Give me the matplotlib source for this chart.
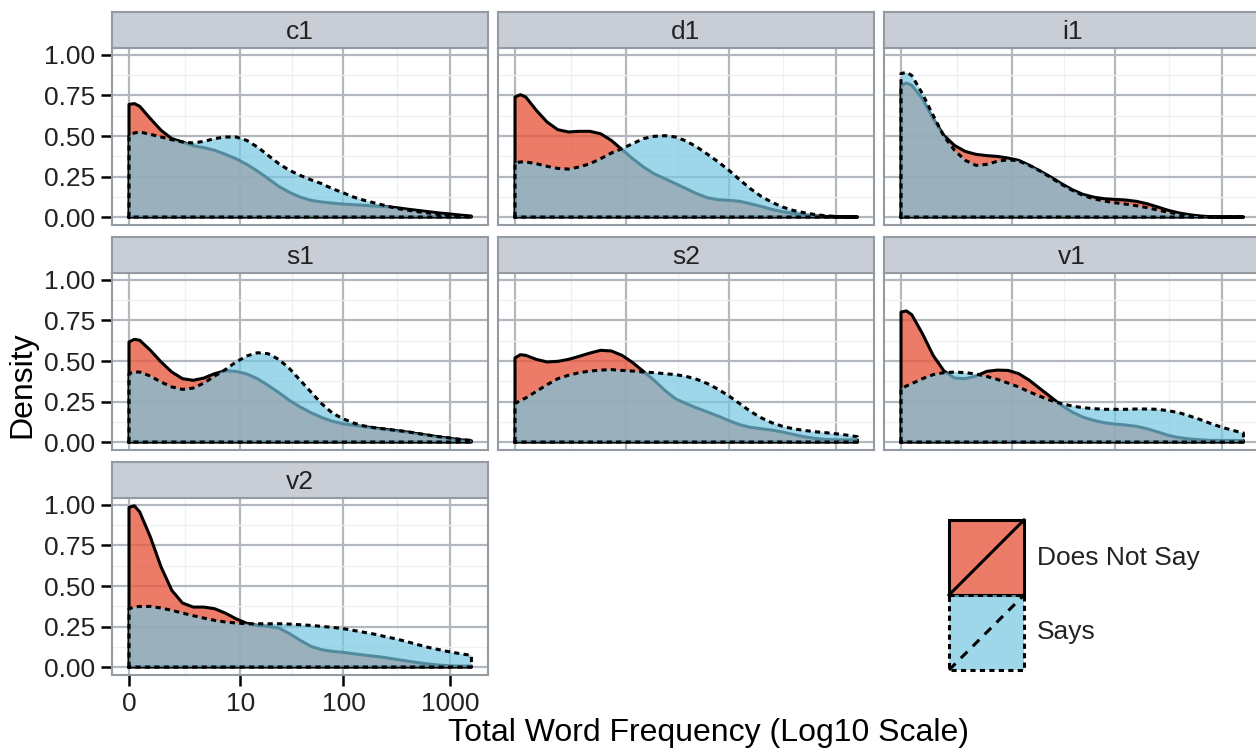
import numpy as np
import matplotlib
matplotlib.use('Agg')
import matplotlib.pyplot as plt
from matplotlib.patches import Rectangle
from matplotlib.lines import Line2D

plt.rcParams['font.family'] = ['Liberation Sans', 'DejaVu Sans']

W, H = 1256, 750

# x in log10(frequency + 1)
log_x = [0.0, 0.05, 0.1, 0.2, 0.3, 0.4, 0.5, 0.6, 0.7, 0.8, 0.9, 1.0,
         1.1, 1.2, 1.3, 1.4, 1.5, 1.6, 1.7, 1.8, 1.9, 2.0, 2.1, 2.2,
         2.3, 2.4, 2.5, 2.6, 2.7, 2.8, 2.9, 3.0, 3.1, 3.2]

panels = ['c1', 'd1', 'i1', 's1', 's2', 'v1', 'v2']

c1_not = [0.695, 0.700, 0.683, 0.607, 0.535, 0.484, 0.463, 0.440, 0.428, 0.412, 0.387, 0.360,
          0.325, 0.284, 0.237, 0.189, 0.152, 0.123, 0.103, 0.093, 0.086, 0.080, 0.076, 0.072,
          0.068, 0.064, 0.058, 0.049, 0.041, 0.033, 0.025, 0.019, 0.012, 0.006]
c1_says = [0.498, 0.519, 0.525, 0.510, 0.494, 0.477, 0.463, 0.457, 0.467, 0.484, 0.494, 0.494,
           0.473, 0.432, 0.381, 0.329, 0.288, 0.257, 0.230, 0.206, 0.175, 0.150, 0.123, 0.103,
           0.086, 0.070, 0.053, 0.043, 0.033, 0.025, 0.016, 0.010, 0.006, 0.004]

d1_not = [0.741, 0.755, 0.741, 0.658, 0.586, 0.539, 0.525, 0.529, 0.529, 0.514, 0.473, 0.416,
          0.360, 0.309, 0.267, 0.237, 0.206, 0.175, 0.144, 0.119, 0.107, 0.103, 0.097, 0.082,
          0.066, 0.047, 0.033, 0.023, 0.014, 0.008, 0.004, 0.002, 0.001, 0.000]
d1_says = [0.333, 0.340, 0.340, 0.329, 0.313, 0.300, 0.296, 0.309, 0.329, 0.360, 0.395, 0.422,
           0.453, 0.484, 0.498, 0.502, 0.494, 0.469, 0.432, 0.387, 0.340, 0.288, 0.230, 0.175,
           0.128, 0.091, 0.062, 0.041, 0.027, 0.016, 0.008, 0.004, 0.002, 0.001]

i1_not = [0.813, 0.827, 0.813, 0.730, 0.607, 0.504, 0.442, 0.405, 0.387, 0.379, 0.374, 0.364,
          0.350, 0.319, 0.284, 0.247, 0.206, 0.169, 0.140, 0.123, 0.113, 0.109, 0.105, 0.097,
          0.082, 0.062, 0.041, 0.025, 0.014, 0.006, 0.002, 0.000, 0.000, 0.000]
i1_says = [0.885, 0.893, 0.874, 0.761, 0.628, 0.500, 0.412, 0.350, 0.319, 0.325, 0.344, 0.354,
           0.346, 0.319, 0.284, 0.243, 0.202, 0.165, 0.134, 0.113, 0.099, 0.088, 0.080, 0.070,
           0.058, 0.043, 0.029, 0.019, 0.010, 0.004, 0.002, 0.000, 0.000, 0.000]

s1_not = [0.617, 0.634, 0.628, 0.566, 0.494, 0.432, 0.391, 0.381, 0.395, 0.422, 0.440, 0.436,
          0.420, 0.391, 0.350, 0.305, 0.257, 0.216, 0.181, 0.152, 0.128, 0.113, 0.103, 0.095,
          0.086, 0.078, 0.070, 0.062, 0.051, 0.041, 0.031, 0.023, 0.014, 0.008]
s1_says = [0.422, 0.432, 0.432, 0.407, 0.370, 0.340, 0.325, 0.333, 0.364, 0.407, 0.447, 0.494,
           0.531, 0.551, 0.545, 0.510, 0.453, 0.381, 0.309, 0.237, 0.179, 0.144, 0.117, 0.099,
           0.088, 0.080, 0.072, 0.064, 0.053, 0.043, 0.033, 0.025, 0.016, 0.010]

s2_not = [0.519, 0.539, 0.535, 0.510, 0.494, 0.498, 0.510, 0.529, 0.549, 0.566, 0.562, 0.535,
          0.490, 0.436, 0.381, 0.319, 0.267, 0.237, 0.210, 0.185, 0.160, 0.132, 0.107, 0.091,
          0.082, 0.074, 0.062, 0.047, 0.033, 0.023, 0.016, 0.014, 0.014, 0.014]
s2_says = [0.237, 0.257, 0.272, 0.313, 0.354, 0.391, 0.412, 0.428, 0.438, 0.444, 0.447, 0.442,
           0.438, 0.432, 0.428, 0.422, 0.416, 0.405, 0.387, 0.360, 0.325, 0.284, 0.237, 0.189,
           0.150, 0.119, 0.097, 0.082, 0.072, 0.064, 0.058, 0.051, 0.043, 0.033]

v1_not = [0.802, 0.809, 0.786, 0.669, 0.535, 0.440, 0.395, 0.391, 0.407, 0.436, 0.444, 0.442,
          0.422, 0.381, 0.329, 0.278, 0.226, 0.185, 0.154, 0.134, 0.119, 0.111, 0.105, 0.097,
          0.082, 0.062, 0.041, 0.027, 0.019, 0.014, 0.010, 0.010, 0.010, 0.010]
v1_says = [0.329, 0.346, 0.360, 0.391, 0.416, 0.428, 0.432, 0.428, 0.420, 0.405, 0.387, 0.364,
           0.340, 0.309, 0.282, 0.257, 0.237, 0.222, 0.212, 0.206, 0.202, 0.202, 0.202, 0.204,
           0.204, 0.202, 0.193, 0.181, 0.160, 0.138, 0.113, 0.091, 0.072, 0.056]

v2_not = [0.985, 0.995, 0.957, 0.802, 0.617, 0.473, 0.395, 0.370, 0.370, 0.360, 0.333, 0.298,
          0.270, 0.257, 0.251, 0.241, 0.206, 0.165, 0.128, 0.107, 0.097, 0.091, 0.082, 0.074,
          0.066, 0.058, 0.047, 0.037, 0.027, 0.019, 0.012, 0.008, 0.006, 0.006]
v2_says = [0.360, 0.370, 0.374, 0.374, 0.364, 0.350, 0.333, 0.317, 0.302, 0.288, 0.278, 0.272,
           0.267, 0.267, 0.267, 0.267, 0.265, 0.261, 0.257, 0.251, 0.245, 0.237, 0.226, 0.214,
           0.202, 0.187, 0.173, 0.156, 0.138, 0.121, 0.107, 0.093, 0.082, 0.072]

series = {
    'c1': (c1_not, c1_says), 'd1': (d1_not, d1_says), 'i1': (i1_not, i1_says),
    's1': (s1_not, s1_says), 's2': (s2_not, s2_says), 'v1': (v1_not, v1_says),
    'v2': (v2_not, v2_says),
}

groups = ['Does Not Say', 'Says']
fill_cols = ['#E85B42', '#77C7E2']
fill_alpha = [0.8, 0.7]
line_styles = ['-', (0, (1.7, 1.4))]

x_ticks = [0, np.log10(11), np.log10(101), np.log10(1001)]
x_ticklabels = ['0', '10', '100', '1000']
y_ticks = [0.0, 0.25, 0.5, 0.75, 1.0]

GRID = '#B3B7BE'
MINOR = '#EEF0F4'
BORDER = '#959BA3'
STRIP = '#C9CDD5'
TXT = '#222222'
FS = 19


def px_axes(fig, x0, y0, x1, y1):
    return fig.add_axes([x0 / W, 1 - y1 / H, (x1 - x0) / W, (y1 - y0) / H])


fig = plt.figure(figsize=(W / 100, H / 100), dpi=100)

col_x = [112, 498, 884]
row_y = [48, 273, 498]
pw, ph, sh = 376, 177, 36

for i, name in enumerate(panels):
    r, c = divmod(i, 3)
    x0, y0 = col_x[c], row_y[r]
    ax = px_axes(fig, x0, y0, x0 + pw, y0 + ph)
    ax.set_xlim(-0.159, 3.355)
    ax.set_ylim(-0.049, 1.043)
    ax.set_axisbelow(True)
    ax.set_xticks(x_ticks)
    ax.set_yticks(y_ticks)
    ax.set_xticks([0.52, 1.52, 2.5], minor=True)
    ax.set_yticks([0.125, 0.375, 0.625, 0.875], minor=True)
    ax.grid(which='major', color=GRID, lw=1.6)
    ax.grid(which='minor', color=MINOR, lw=1.0)
    for s in ax.spines.values():
        s.set_color(BORDER)
        s.set_linewidth(1.5)
    ax.tick_params(which='minor', length=0)
    ax.tick_params(which='major', length=8, width=1.8, color='black',
                   labelsize=FS, labelcolor=TXT, pad=4)
    if c == 0:
        ax.set_yticklabels(['0.00', '0.25', '0.50', '0.75', '1.00'])
    else:
        ax.tick_params(axis='y', length=0, labelleft=False)
    if name == 'v2':
        ax.set_xticklabels(x_ticklabels)
    else:
        ax.tick_params(axis='x', length=0, labelbottom=False)

    for k, vals in enumerate(series[name]):
        xs = [log_x[0]] + log_x + [log_x[-1], log_x[0]]
        ys = [0.0] + vals + [0.0, 0.0]
        ax.fill(xs, ys, color=fill_cols[k], alpha=fill_alpha[k], lw=0, zorder=2 + 2 * k)
        ax.plot(xs, ys, color='black', lw=2.2, ls=line_styles[k], zorder=3 + 2 * k,
                solid_joinstyle='round')

    sax = px_axes(fig, x0, y0 - sh, x0 + pw, y0)
    sax.set_facecolor(STRIP)
    sax.set_xticks([])
    sax.set_yticks([])
    for s in sax.spines.values():
        s.set_color(BORDER)
        s.set_linewidth(1.5)
    sax.text(0.5, 0.45, name, ha='center', va='center', fontsize=FS, color=TXT,
             transform=sax.transAxes)

fig.text(22 / W, 1 - 385 / H, 'Density', rotation=90, ha='center', va='center',
         fontsize=23, color='black')
fig.text(709 / W, 1 - 733 / H, 'Total Word Frequency (Log10 Scale)', ha='center',
         va='center', fontsize=23, color='black')

# legend
lax = px_axes(fig, 940, 510, 1256, 680)
lax.set_xlim(940, 1256)
lax.set_ylim(680, 510)
lax.axis('off')
key_x, key_w = 949, 75
key_y = [520, 595]
for k, g in enumerate(groups):
    ky = key_y[k]
    lax.add_patch(Rectangle((key_x, ky), key_w, key_w, facecolor=fill_cols[k],
                            alpha=fill_alpha[k], lw=0))
    lax.add_patch(Rectangle((key_x, ky), key_w, key_w, facecolor='none', edgecolor='black',
                            lw=2.2, ls=line_styles[k]))
    lax.add_line(Line2D([key_x, key_x + key_w], [ky + key_w, ky], color='black', lw=2.2,
                        ls=line_styles[k] if k == 0 else (0, (3, 2.5))))
    lax.text(1037, ky + key_w / 2, g, ha='left', va='center', fontsize=FS, color=TXT)

fig.savefig('out.png', dpi=100)
